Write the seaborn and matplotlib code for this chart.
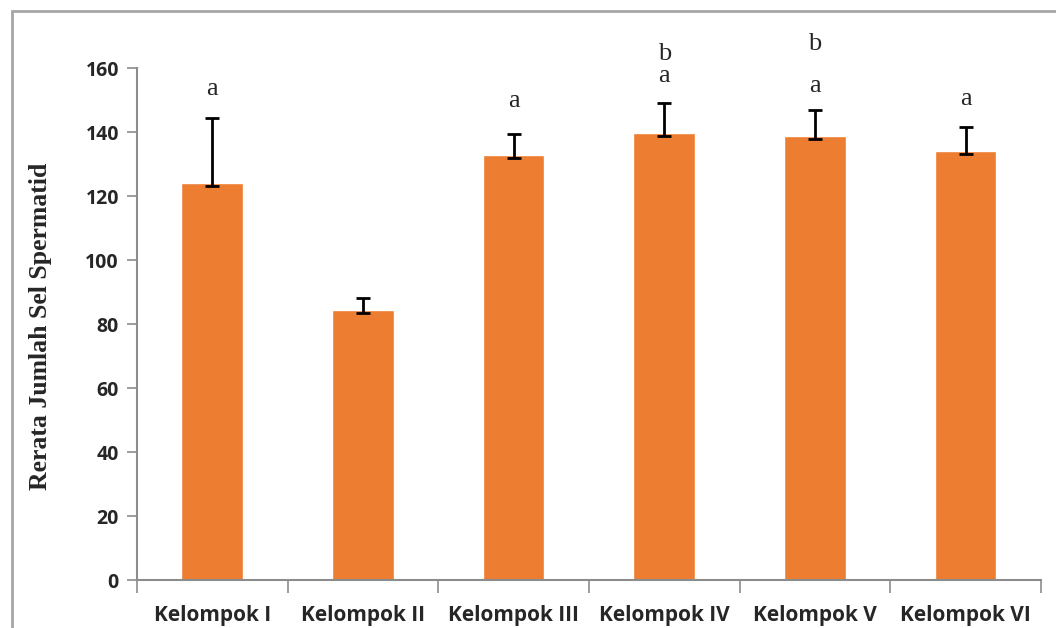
import matplotlib
matplotlib.use("Agg")
import matplotlib.pyplot as plt
import seaborn as sns
import pandas as pd
import numpy as np
from matplotlib.patches import Rectangle

# data
kelompok = ["Kelompok I", "Kelompok II", "Kelompok III", "Kelompok IV", "Kelompok V", "Kelompok VI"]
rerata = [124.1, 84.4, 132.8, 139.7, 138.8, 134.0]
galat = [20.3, 3.7, 6.6, 9.3, 8.1, 7.6]
huruf_bawah = ["a", "", "a", "a", "a", "a"]
huruf_atas = ["", "", "", "b", "b", ""]
posisi_bawah = [151.6, 0, 147.8, 155.6, 152.5, 148.4]
posisi_atas = [0, 0, 0, 162.5, 165.6, 0]

df = pd.DataFrame({"kelompok": kelompok, "rerata": rerata})

sns.set_style("white")
fig = plt.figure(figsize=(10.56, 6.28), dpi=100)
ax = fig.add_axes([0.1297, 0.0764, 0.856, 0.815])

sns.barplot(data=df, x="kelompok", y="rerata", color="#ED7D31", width=0.41,
            saturation=1, ax=ax)

# error bars only upward from the bar top
for i, (m, e) in enumerate(zip(rerata, galat)):
    ax.errorbar(i, m, yerr=[[0.8], [e]], fmt="none", ecolor="black",
                elinewidth=2, capsize=5, capthick=2)

# significance letters
for i in range(len(kelompok)):
    if huruf_bawah[i]:
        ax.text(i, posisi_bawah[i], huruf_bawah[i], ha="center", va="baseline",
                fontsize=19, family="Liberation Serif", clip_on=False)
    if huruf_atas[i]:
        ax.text(i, posisi_atas[i], huruf_atas[i], ha="center", va="baseline",
                fontsize=19, family="Liberation Serif", clip_on=False)

ax.set_ylim(0, 160)
ax.set_xlim(-0.5, 5.5)
ax.set_yticks(np.arange(0, 161, 20))
ax.set_yticklabels([str(v) for v in range(0, 161, 20)], fontsize=14,
                   fontweight="bold", family="Open Sans")
ax.set_xticks(range(6))
ax.set_xticklabels(kelompok, fontsize=15, fontweight="bold", family="Open Sans")
ax.set_xticks(np.arange(-0.5, 6, 1), minor=True)
ax.tick_params(axis="x", which="major", length=0, pad=18, bottom=False)
ax.tick_params(axis="x", which="minor", length=9, width=1.2, color="#8C8C8C",
               direction="out", bottom=True)
ax.tick_params(axis="y", length=7, width=1.2, color="#8C8C8C", direction="out", pad=6, left=True)

ax.set_xlabel("")
ax.set_ylabel("Rerata Jumlah Sel Spermatid", fontsize=18.5, fontweight="bold",
              family="Liberation Serif")
ax.yaxis.set_label_coords(-0.094, 0.496)

for side in ["top", "right"]:
    ax.spines[side].set_visible(False)
for side in ["left", "bottom"]:
    ax.spines[side].set_color("#8C8C8C")
    ax.spines[side].set_linewidth(1.5)

# outer chart frame
fig.patches.append(Rectangle((12 / 1056, -0.2), 1.2, 1.2 - 12 / 628 + 0.001,
                             transform=fig.transFigure, fill=False,
                             edgecolor="#A6A6A6", linewidth=2))

fig.savefig("out.png", dpi=100)
